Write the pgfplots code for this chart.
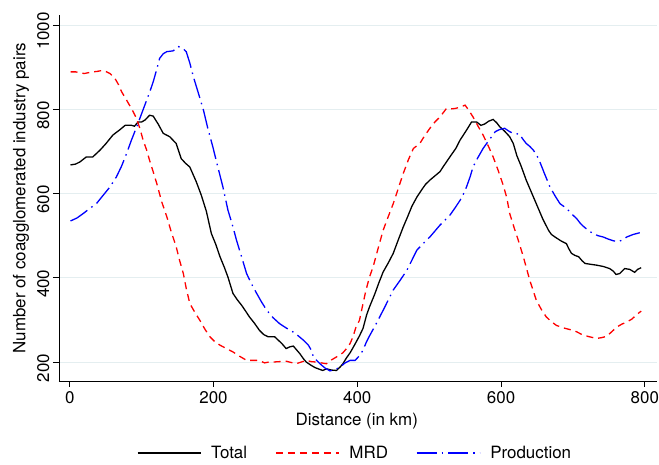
\documentclass[border=0pt]{standalone}
\usepackage{fontspec}
\setmainfont{TeX Gyre Heros}
\usepackage{pgfplots}
\pgfplotsset{compat=1.18}
\definecolor{gridc}{RGB}{228,238,240}
\begin{document}
\begin{tikzpicture}[x=1bp,y=1bp]
\path[use as bounding box] (-59,-84) rectangle (600,381);
\begin{axis}[
  at={(0,0)}, anchor=south west,
  scale only axis, width=598bp, height=366bp,
  xmin=-15, xmax=817, ymin=155, ymax=1024,
  axis lines*=left,
  axis line style={line width=0.9bp, black},
  xtick={0,200,400,600,800}, ytick={200,400,600,800,1000},
  tick align=outside, major tick length=6bp,
  tick style={line width=0.9bp, black},
  ymajorgrids, grid style={color=gridc, line width=1bp},
  font=\fontsize{17}{20}\selectfont,
  /pgf/number format/assume math mode=true,
  /pgf/number format/1000 sep={},
  yticklabel style={rotate=90, anchor=south, xshift=-6bp},
  xticklabel style={anchor=north, yshift=-1bp},
  xlabel={Distance (in km)},
  ylabel={Number of coagglomerated industry pairs},
  xlabel style={at={(axis description cs:0.498,0)}, anchor=center, yshift=-40bp},
  ylabel style={at={(axis description cs:0,0.5)}, anchor=center, yshift=38bp},
  legend columns=3,
  legend style={at={(0.495,-0.197)}, anchor=center, draw=none, fill=none,
    font=\fontsize{17}{20}\selectfont,
    /tikz/every odd column/.append style={column sep=8bp},
    /tikz/every even column/.append style={column sep=26bp}},
  legend image code/.code={\draw[#1] (0bp,0bp) -- (63bp,0bp);},
]
\addplot[black, line width=1.3bp] coordinates {
(1,668)(8,670)(14,675)(20,683)(23,687)(32,687)(42,703)(50,718)(60,739)(70,752)(77,762)(86,762)(90,760)(95,770)(100,770)(105,775)(111,786)(116,784)(123,765)(130,743)(139,735)(148,719)(155,683)(161,672)(167,663)(176,628)(183,596)(190,558)(197,505)(203,480)(209,450)(215,425)(220,402)(227,363)(233,348)(239,335)(245,320)(250,307)(257,292)(264,275)(270,265)(276,260)(285,260)(290,252)(295,244)(301,232)(306,236)(311,238)(315,230)(320,220)(325,208)(329,200)(335,193)(341,187)(347,183)(352,180)(357,184)(364,181)(371,180)(376,188)(380,196)(385,210)(390,222)(396,240)(403,262)(408,280)(413,312)(417,331)(424,360)(430,388)(436,414)(443,435)(450,458)(457,490)(464,521)(470,545)(476,570)(483,592)(490,610)(495,622)(501,632)(508,642)(515,652)(520,665)(524,675)(530,690)(537,707)(543,727)(551,748)(559,770)(566,770)(572,762)(577,765)(583,772)(589,776)(594,768)(598,759)(605,748)(612,735)(617,719)(622,690)(628,665)(635,632)(643,600)(650,572)(658,540)(666,513)(670,503)(675,497)(683,488)(691,481)(694,470)(698,458)(703,453)(708,450)(713,440)(717,434)(725,432)(733,430)(742,427)(751,422)(756,416)(760,408)(765,410)(772,422)(779,420)(786,413)(790,420)(795,424)
};
\addlegendentry{Total}
\addplot[red, line width=1.3bp, dash pattern=on 7bp off 5bp] coordinates {
(1,889)(8,889)(14,887)(20,885)(26,887)(32,889)(38,890)(44,892)(50,890)(56,885)(63,873)(68,858)(72,842)(78,825)(83,810)(88,795)(93,778)(98,752)(102,727)(107,703)(111,679)(116,652)(121,624)(128,580)(135,545)(141,510)(148,474)(153,440)(158,410)(162,375)(167,339)(174,318)(181,299)(188,278)(195,260)(202,248)(209,240)(218,232)(227,224)(236,214)(246,204)(253,204)(260,204)(266,202)(271,198)(277,200)(283,200)(292,201)(301,202)(308,199)(315,196)(322,200)(329,204)(336,201)(343,200)(350,198)(357,196)(364,205)(371,212)(380,222)(385,232)(390,244)(394,260)(398,282)(403,299)(408,339)(412,370)(417,402)(422,426)(429,470)(436,513)(443,545)(450,576)(457,612)(464,648)(471,680)(478,707)(487,719)(494,738)(501,755)(508,770)(515,782)(520,793)(524,802)(530,801)(536,802)(543,805)(550,810)(555,798)(561,782)(568,760)(575,739)(582,714)(589,687)(596,655)(603,620)(608,590)(612,553)(618,520)(624,489)(631,450)(640,394)(645,368)(649,347)(656,325)(663,307)(670,296)(677,287)(687,281)(696,277)(705,272)(714,264)(723,260)(733,256)(740,258)(747,261)(754,272)(761,283)(768,290)(775,295)(782,302)(789,313)(795,321)
};
\addlegendentry{MRD}
\addplot[blue, line width=1.3bp, dash pattern=on 20bp off 5bp on 1.5bp off 5bp] coordinates {
(1,535)(10,542)(19,553)(28,565)(37,576)(46,595)(56,616)(65,640)(72,665)(79,695)(86,728)(93,758)(100,790)(107,822)(112,845)(116,865)(121,895)(125,921)(130,932)(135,937)(140,938)(144,939)(148,945)(151,949)(157,945)(162,937)(167,910)(172,877)(179,838)(186,798)(192,755)(199,711)(206,663)(213,616)(220,561)(227,521)(232,489)(239,450)(246,410)(253,385)(260,363)(267,342)(274,323)(283,305)(292,291)(301,281)(311,271)(318,262)(325,252)(332,240)(336,228)(339,212)(344,203)(348,196)(355,186)(362,179)(369,182)(376,188)(383,198)(390,204)(397,204)(403,215)(408,228)(412,245)(417,262)(426,290)(436,323)(443,347)(450,371)(460,395)(469,418)(476,442)(483,466)(492,482)(501,497)(508,511)(515,525)(522,537)(529,549)(536,566)(543,584)(548,600)(552,616)(557,640)(561,663)(566,680)(571,695)(575,707)(580,719)(586,733)(592,747)(598,752)(605,755)(612,747)(617,743)(626,741)(630,730)(635,719)(640,712)(645,703)(650,690)(654,675)(661,645)(668,616)(675,595)(682,576)(691,565)(698,552)(705,541)(710,530)(714,523)(721,513)(728,505)(735,500)(742,497)(749,492)(756,488)(762,486)(768,489)(775,497)(784,503)(793,507)
};
\addlegendentry{Production}
\end{axis}
\end{tikzpicture}
\end{document}
